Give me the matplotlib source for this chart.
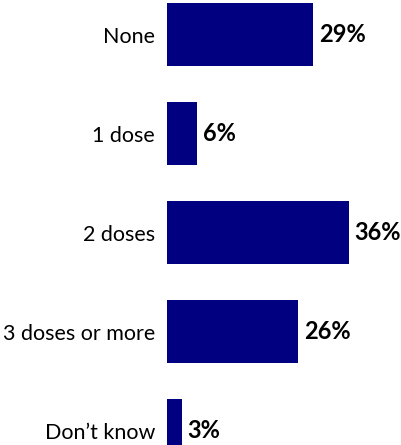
import matplotlib
matplotlib.use("Agg")
import matplotlib.pyplot as plt

categories = ["None", "1 dose", "2 doses", "3 doses or more", "Don\u2019t know"]
values = [29, 6, 36, 26, 3]
value_labels = ["29%", "6%", "36%", "26%", "3%"]

plt.rcParams['font.family'] = ['Lato', 'DejaVu Sans']

fig = plt.figure(figsize=(4.01, 4.45), dpi=100)
ax = fig.add_axes([167 / 401, 0, 232 / 401, 1])

pos = list(range(len(categories)))
ax.barh(pos, values, height=0.64, color="#000080")

ax.set_xlim(0, 46)
ax.set_ylim(4.146, -0.3485)

for p, v, lab in zip(pos, values, value_labels):
    ax.text(v + 1.1, p, lab, va="center", ha="left",
            fontsize=17, fontweight="bold", color="black")

ax.set_yticks(pos)
ax.set_yticklabels(categories, fontsize=15.5)
ax.tick_params(axis="y", length=0, pad=8.5)
ax.set_xticks([])
for s in ax.spines.values():
    s.set_visible(False)

fig.savefig("out.png", dpi=100)
